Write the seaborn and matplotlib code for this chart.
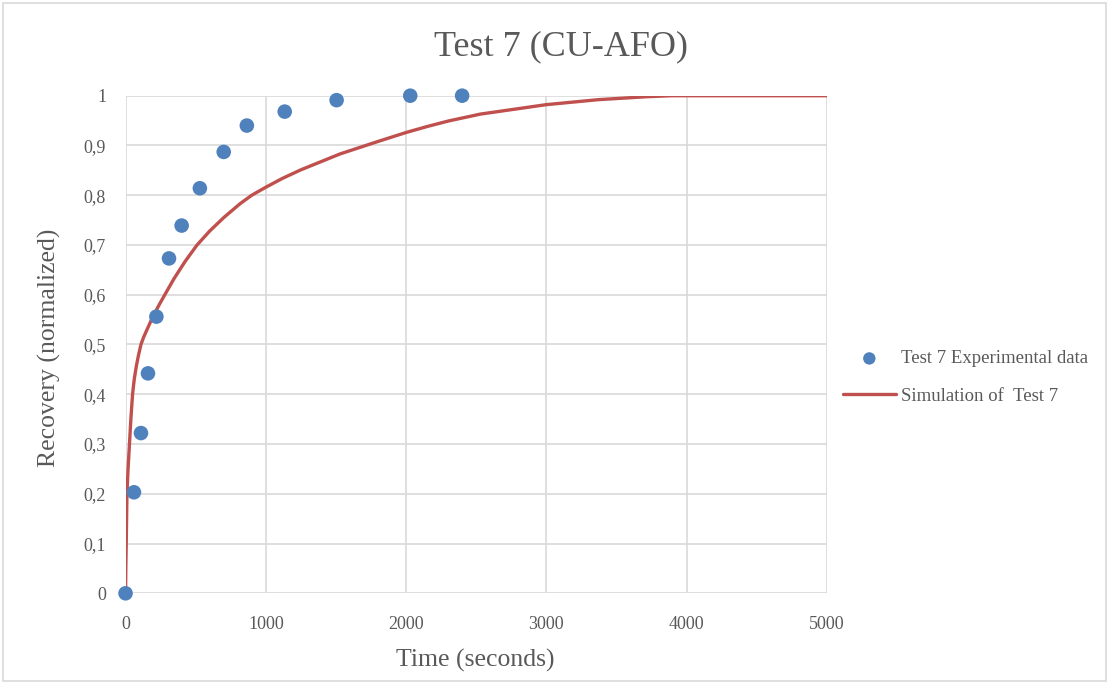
import matplotlib
matplotlib.use("Agg")
import matplotlib.pyplot as plt
import seaborn as sns
import pandas as pd
from matplotlib.patches import Rectangle

# Measured recovery (normalized) versus time in seconds
exp_time = [0, 60, 110, 160, 220, 310, 400, 530, 700, 865, 1135, 1505, 2030, 2400]
exp_recovery = [0.0, 0.203, 0.322, 0.442, 0.556, 0.673, 0.739, 0.814, 0.887, 0.940, 0.968, 0.991, 1.0, 1.0]

# Simulated recovery curve
sim_time = [0, 2, 5, 10, 18, 28, 38, 50, 62, 76, 92, 110, 128, 150, 190, 240, 280, 345, 425,
            510, 600, 700, 817, 900, 1000, 1120, 1250, 1530, 1800, 2000, 2150, 2300, 2530,
            3000, 3370, 3720, 3900, 5000]
sim_recovery = [0.0, 0.05, 0.10, 0.20, 0.25, 0.30, 0.35, 0.40, 0.43, 0.455, 0.478, 0.50, 0.514,
                0.528, 0.553, 0.58, 0.60, 0.632, 0.667, 0.70, 0.728, 0.755, 0.783, 0.800, 0.816,
                0.834, 0.851, 0.883, 0.908, 0.926, 0.938, 0.949, 0.963, 0.982, 0.992, 0.998,
                1.0, 1.0]

x_ticks = [0, 1000, 2000, 3000, 4000, 5000]
y_ticks = [0, 0.1, 0.2, 0.3, 0.4, 0.5, 0.6, 0.7, 0.8, 0.9, 1.0]
y_tick_labels = ["0", "0,1", "0,2", "0,3", "0,4", "0,5", "0,6", "0,7", "0,8", "0,9", "1"]

exp_df = pd.DataFrame({"time": exp_time, "recovery": exp_recovery})
sim_df = pd.DataFrame({"time": sim_time, "recovery": sim_recovery})

sns.set_style("white")
plt.rcParams["font.family"] = ["Liberation Serif", "DejaVu Serif"]

TEXT = "#595959"
GRID = "#D9D9D9"
BLUE = "#4F81BD"
RED = "#C0504D"

fig = plt.figure(figsize=(11.09, 6.84), dpi=100)
ax = fig.add_axes([0.1132, 0.1326, 0.6323, 0.7275])

sns.lineplot(data=sim_df, x="time", y="recovery", ax=ax, color=RED, linewidth=2.4,
             label="Simulation of  Test 7", zorder=3, sort=False,
             solid_joinstyle="round", solid_capstyle="round")
sns.scatterplot(data=exp_df, x="time", y="recovery", ax=ax, color=BLUE, s=110,
                edgecolor="none", label="Test 7 Experimental data", zorder=4, clip_on=False)

ax.set_xlim(0, 5000)
ax.set_ylim(0, 1)
ax.set_xticks(x_ticks)
ax.set_xticklabels([str(v) for v in x_ticks])
ax.set_yticks(y_ticks)
ax.set_yticklabels(y_tick_labels)
ax.tick_params(axis="both", length=0, labelsize=13, labelcolor=TEXT)
ax.tick_params(axis="x", pad=16)
ax.tick_params(axis="y", pad=14)

ax.grid(True, color=GRID, linewidth=1.2)
ax.set_axisbelow(True)
for s in ax.spines.values():
    s.set_visible(False)

ax.set_xlabel("Time (seconds)", fontsize=18.5, color=TEXT, va="center")
ax.xaxis.set_label_coords(0.499, -0.134)
ax.set_ylabel("Recovery (normalized)", fontsize=18.5, color=TEXT, va="center")
ax.yaxis.set_label_coords(-0.108, 0.493)

fig.text(0.506, 0.931, "Test 7 (CU-AFO)", ha="center", va="center", fontsize=26, color=TEXT)

handles, labels = ax.get_legend_handles_labels()
order = [labels.index("Test 7 Experimental data"), labels.index("Simulation of  Test 7")]
leg = ax.legend([handles[i] for i in order], [labels[i] for i in order],
                loc="center left", bbox_to_anchor=(0.745, 0.448), bbox_transform=fig.transFigure,
                frameon=False, fontsize=13.5, handlelength=2.8, handletextpad=0.27,
                labelspacing=1.09, markerscale=0.85)
for t in leg.get_texts():
    t.set_color(TEXT)

# Chart border
fig.patches.append(Rectangle((0.003, 0.004), 0.994, 0.991, transform=fig.transFigure,
                             fill=False, edgecolor=GRID, linewidth=1.2))

fig.savefig("out.png", dpi=100)
